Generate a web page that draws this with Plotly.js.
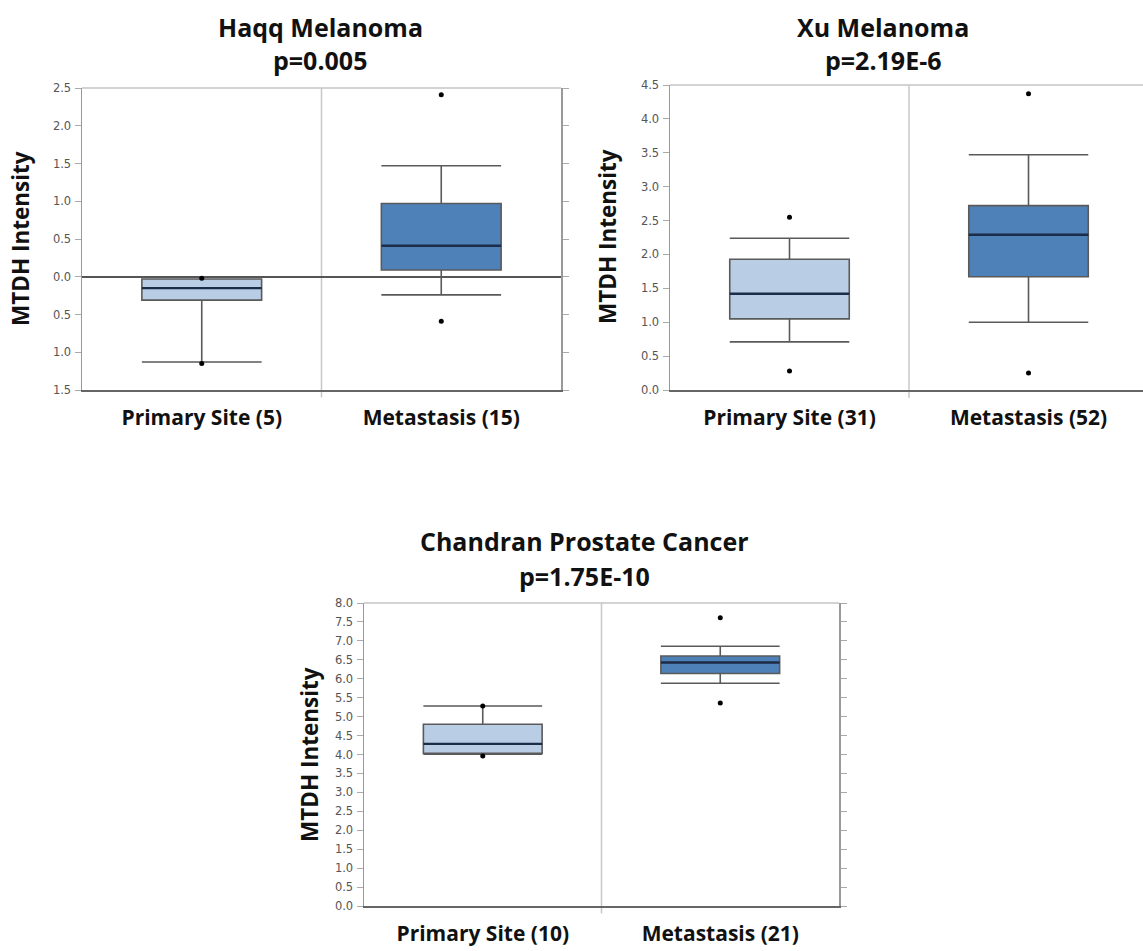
<!DOCTYPE html>
<html>
<head>
<meta charset="utf-8">
<script src="https://cdn.plot.ly/plotly-3.0.1.min.js"></script>
<style>html,body{margin:0;padding:0;background:#fff;}#chart{width:1143px;height:951px;}</style>
</head>
<body>
<div id="chart"></div>
<script>
// ---------- DATA ----------
// Haqq Melanoma
const haqqCategories = ['Primary Site (5)', 'Metastasis (15)'];
const haqqLowerFence = [-1.13, -0.24];
const haqqQ1 = [-0.31, 0.09];
const haqqMedian = [-0.15, 0.41];
const haqqQ3 = [-0.03, 0.97];
const haqqUpperFence = [-0.03, 1.47];
const haqqOutliers = [[-0.02, -1.15], [2.41, -0.59]];
const haqqTickVals = [-1.5, -1.0, -0.5, 0.0, 0.5, 1.0, 1.5, 2.0, 2.5];
const haqqTickText = ['1.5', '1.0', '0.5', '0.0', '0.5', '1.0', '1.5', '2.0', '2.5'];

// Xu Melanoma
const xuCategories = ['Primary Site (31)', 'Metastasis (52)'];
const xuLowerFence = [0.71, 1.00];
const xuQ1 = [1.05, 1.67];
const xuMedian = [1.42, 2.29];
const xuQ3 = [1.93, 2.72];
const xuUpperFence = [2.24, 3.47];
const xuOutliers = [[2.55, 0.28], [4.37, 0.25]];
const xuTickVals = [0, 0.5, 1.0, 1.5, 2.0, 2.5, 3.0, 3.5, 4.0, 4.5];
const xuTickText = ['0.0', '0.5', '1.0', '1.5', '2.0', '2.5', '3.0', '3.5', '4.0', '4.5'];

// Chandran Prostate Cancer
const chCategories = ['Primary Site (10)', 'Metastasis (21)'];
const chLowerFence = [4.01, 5.88];
const chQ1 = [4.03, 6.14];
const chMedian = [4.28, 6.43];
const chQ3 = [4.80, 6.60];
const chUpperFence = [5.28, 6.86];
const chOutliers = [[5.28, 3.96], [7.61, 5.36]];
const chTickVals = [0, 0.5, 1.0, 1.5, 2.0, 2.5, 3.0, 3.5, 4.0, 4.5, 5.0, 5.5, 6.0, 6.5, 7.0, 7.5, 8.0];
const chTickText = ['0.0', '0.5', '1.0', '1.5', '2.0', '2.5', '3.0', '3.5', '4.0', '4.5', '5.0', '5.5', '6.0', '6.5', '7.0', '7.5', '8.0'];

const titles = [
  ['Haqq Melanoma', 'p=0.005'],
  ['Xu Melanoma', 'p=2.19E-6'],
  ['Chandran Prostate Cancer', 'p=1.75E-10']
];
const yTitle = 'MTDH Intensity';

// ---------- STYLE ----------
const W = 1143, H = 951;
const fills = ['#b9cde5', '#4f81b9'];
const boxLine = '#5a5a5a';
const medianColor = '#1c2d4a';
const BOXW = 0.5;
const titleFont = {family: '"Open Sans", Lato, sans-serif', size: 25, color: '#111', weight: 'bold'};
const catFont = {family: '"Open Sans", Lato, sans-serif', size: 21, color: '#111', weight: 'bold'};
const yTitleFont = {family: '"Open Sans", Lato, sans-serif', size: 22.5, color: '#111', weight: 'bold'};
const tickFont = {family: '"DejaVu Sans", sans-serif', size: 11.5, color: '#555'};

const px = v => v / W;
const py = v => 1 - v / H;

const panels = [
  {cats: haqqCategories, lf: haqqLowerFence, q1: haqqQ1, med: haqqMedian, q3: haqqQ3, uf: haqqUpperFence, out: haqqOutliers,
   tv: haqqTickVals, tt: haqqTickText, yr: [-1.5, 2.5], xr: [-0.5, 1.5],
   dom: {x0: 82, x1: 561, y0: 88, y1: 390}, zero: true, mirrorTicks: true,
   t: {x: 320, y1: 27, y2: 60}, yt: {x: 20, y: 239}},
  {cats: xuCategories, lf: xuLowerFence, q1: xuQ1, med: xuMedian, q3: xuQ3, uf: xuUpperFence, out: xuOutliers,
   tv: xuTickVals, tt: xuTickText, yr: [0, 4.5], xr: [-0.5, 1.479],
   dom: {x0: 670, x1: 1143, y0: 85, y1: 390}, zero: false, mirrorTicks: false,
   t: {x: 883, y1: 27, y2: 60}, yt: {x: 607, y: 237}},
  {cats: chCategories, lf: chLowerFence, q1: chQ1, med: chMedian, q3: chQ3, uf: chUpperFence, out: chOutliers,
   tv: chTickVals, tt: chTickText, yr: [0, 8], xr: [-0.5, 1.5],
   dom: {x0: 364, x1: 839, y0: 603, y1: 906}, zero: false, mirrorTicks: true,
   t: {x: 584, y1: 541, y2: 576}, yt: {x: 309, y: 755}}
];

const data = [];
const layout = {
  width: W, height: H,
  margin: {l: 0, r: 0, t: 0, b: 0},
  paper_bgcolor: '#fff', plot_bgcolor: '#fff',
  showlegend: false,
  shapes: [], annotations: []
};

panels.forEach((p, i) => {
  const n = i + 1;
  const xa = 'x' + (n === 1 ? '' : n), ya = 'y' + (n === 1 ? '' : n);
  const xKey = 'xaxis' + (n === 1 ? '' : n), yKey = 'yaxis' + (n === 1 ? '' : n);

  p.cats.forEach((c, k) => {
    data.push({
      type: 'box', xaxis: xa, yaxis: ya, x: [k],
      q1: [p.q1[k]], median: [p.med[k]], q3: [p.q3[k]],
      lowerfence: [p.lf[k]], upperfence: [p.uf[k]],
      width: BOXW, whiskerwidth: 1, boxpoints: false,
      fillcolor: fills[k], line: {color: boxLine, width: 1.6},
      hoverinfo: 'skip'
    });
    data.push({
      type: 'scatter', mode: 'lines', xaxis: xa, yaxis: ya,
      x: [k - BOXW / 2, k + BOXW / 2], y: [p.med[k], p.med[k]],
      line: {color: medianColor, width: 2.4}, hoverinfo: 'skip'
    });
    data.push({
      type: 'scatter', mode: 'markers', xaxis: xa, yaxis: ya,
      x: p.out[k].map(() => k), y: p.out[k],
      marker: {color: '#000', size: 5}, hoverinfo: 'skip'
    });
  });

  layout[xKey] = {
    domain: [px(p.dom.x0), px(p.dom.x1)],
    anchor: ya, range: p.xr, fixedrange: true,
    tickvals: [0, 1], ticktext: p.cats, ticks: '',
    tickfont: catFont, ticklabelstandoff: 8,
    showgrid: false, zeroline: false,
    showline: true, linecolor: '#666', linewidth: 1.5, mirror: false
  };
  layout[yKey] = {
    domain: [py(p.dom.y1), py(p.dom.y0)],
    anchor: xa, range: p.yr, fixedrange: true,
    tickvals: p.tv, ticktext: p.tt, ticks: 'outside', ticklen: 6, tickcolor: '#aaa', tickwidth: 1,
    tickfont: tickFont, ticklabelstandoff: 1,
    showgrid: false,
    zeroline: p.zero, zerolinecolor: '#555', zerolinewidth: 1.5,
    showline: true, linecolor: '#999', linewidth: 1.5,
    mirror: p.mirrorTicks ? 'ticks' : false
  };

  // top frame line
  layout.shapes.push({type: 'line', xref: xa + ' domain', yref: ya + ' domain', x0: 0, x1: 1, y0: 1, y1: 1,
    line: {color: '#c4c4c4', width: 1.5}});
  // category divider
  layout.shapes.push({type: 'line', xref: xa, yref: ya + ' domain', x0: 0.5, x1: 0.5, y0: -0.025, y1: 1,
    line: {color: '#c8c8c8', width: 1.5}, layer: 'below'});

  // titles
  layout.annotations.push({text: titles[i][0], xref: 'paper', yref: 'paper',
    x: px(p.t.x), y: py(p.t.y1), xanchor: 'center', yanchor: 'middle', showarrow: false, font: titleFont});
  layout.annotations.push({text: titles[i][1], xref: 'paper', yref: 'paper',
    x: px(p.t.x), y: py(p.t.y2), xanchor: 'center', yanchor: 'middle', showarrow: false, font: titleFont});
  // y title
  layout.annotations.push({text: yTitle, xref: 'paper', yref: 'paper',
    x: px(p.yt.x), y: py(p.yt.y), xanchor: 'center', yanchor: 'middle', textangle: -90,
    showarrow: false, font: yTitleFont});
});

Plotly.newPlot('chart', data, layout, {staticPlot: true, displayModeBar: false});
</script>
</body>
</html>
